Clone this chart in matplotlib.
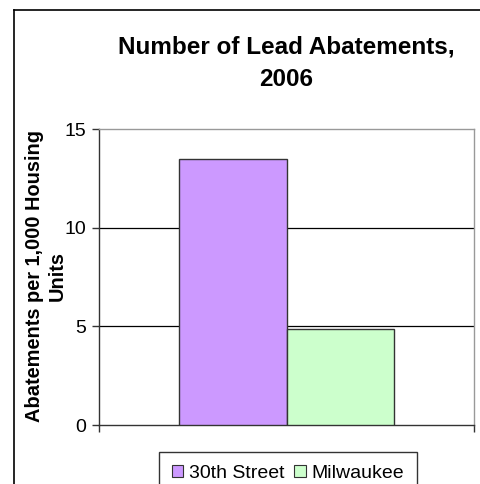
import matplotlib.pyplot as plt
from matplotlib.patches import Patch
from matplotlib.lines import Line2D

plt.rcParams['font.family'] = ['Liberation Sans', 'DejaVu Sans']

# data
series = ["30th Street", "Milwaukee"]
values = [13.5, 4.85]
colors = ["#CC99FF", "#CCFFCC"]
yticks = [0, 5, 10, 15]

fig = plt.figure(figsize=(4.81, 4.84), dpi=100)
ax = fig.add_axes([99/481, 1 - 425/484, 375/481, 296/484])

# one category, two bars side by side
xpos = [0.357, 0.643]
ax.bar(xpos, values, width=0.286, color=colors, edgecolor="#333333", linewidth=1.0, zorder=3)

ax.set_xlim(0, 1)
ax.set_ylim(0, 15)
ax.set_yticks(yticks)
ax.set_yticklabels([str(v) for v in yticks], fontsize=14)
ax.set_xticks([0, 1])
ax.set_xticklabels([])
ax.tick_params(axis="both", direction="out", length=5, width=1, color="#333333")
ax.tick_params(axis="y", pad=4)

for v in yticks[1:-1]:
    ax.axhline(v, color="#000000", linewidth=0.9, zorder=1)

ax.spines["left"].set_color("#333333")
ax.spines["bottom"].set_color("#333333")
ax.spines["top"].set_color("#999999")
ax.spines["right"].set_color("#999999")
for s in ax.spines.values():
    s.set_linewidth(1.0)

fig.text(46/481, 1 - 276/484, "Abatements per 1,000 Housing\nUnits", rotation=90,
         ha="center", va="center", multialignment="center",
         fontsize=14.4, fontweight="bold", linespacing=1.25)

fig.text(286/481, 1 - 63/484, "Number of Lead Abatements,\n2006", ha="center", va="center",
         fontsize=17.5, fontweight="bold", linespacing=1.5)

handles = [Patch(facecolor=c, edgecolor="#333333", linewidth=0.8) for c in colors]
fig.legend(handles, series, loc="upper left", bbox_to_anchor=(159/481, 1 - 452/484),
           frameon=True, fancybox=False, edgecolor="#000000", fontsize=14,
           ncol=2, handlelength=0.6, handleheight=0.6, handletextpad=0.3,
           columnspacing=0.5, borderpad=0.65, borderaxespad=0)

# outer chart border (runs off the right and bottom of the picture)
fig.add_artist(Line2D([14/481, 1.0], [1 - 10/484, 1 - 10/484], transform=fig.transFigure,
                      color="#000000", linewidth=1.2))
fig.add_artist(Line2D([14/481, 14/481], [0, 1 - 10/484], transform=fig.transFigure,
                      color="#000000", linewidth=1.2))

fig.savefig("out.png", dpi=100)
